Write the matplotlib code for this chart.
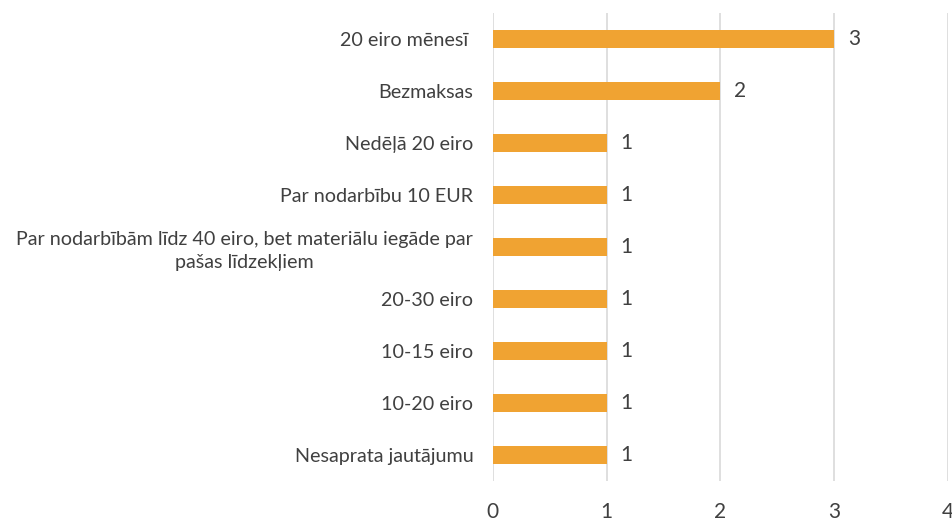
import matplotlib
matplotlib.use('Agg')
import matplotlib.pyplot as plt

# answers and counts, top to bottom
categories = [
    '20 eiro mēnesī ',
    'Bezmaksas',
    'Nedēļā 20 eiro',
    'Par nodarbību 10 EUR',
    'Par nodarbībām līdz 40 eiro, bet materiālu iegāde par\npašas līdzekļiem',
    '20-30 eiro',
    '10-15 eiro',
    '10-20 eiro',
    'Nesaprata jautājumu',
]
counts = [3, 2, 1, 1, 1, 1, 1, 1, 1]
xticks = [0, 1, 2, 3, 4]

plt.rcParams['font.family'] = ['Lato', 'DejaVu Sans']
text_col = '#404040'
bar_col = '#F0A332'

fig = plt.figure(figsize=(9.53, 5.21), dpi=100)
ax = fig.add_axes([0.517, 0.077, 0.478, 0.898])

ypos = list(range(len(categories)))
ax.barh(ypos, counts, height=0.35, color=bar_col, zorder=3)
ax.set_yticks(ypos)
ax.set_yticklabels(categories, fontsize=14.2, color=text_col)
for lbl in ax.get_yticklabels():
    lbl.set_multialignment('center')
    lbl.set_linespacing(1.4)
ax.set_ylim(-0.5, len(categories) - 0.5)
ax.invert_yaxis()

for y, v in zip(ypos, counts):
    ax.text(v + 0.12, y, str(v), va='center', ha='left', fontsize=15, color=text_col)

ax.set_xlim(0, 4)
ax.set_xticks(xticks)
ax.set_xticklabels([str(t) for t in xticks], fontsize=15, color=text_col)
ax.xaxis.grid(True, color='#D9D9D9', linewidth=1.2, zorder=0)
ax.tick_params(axis='both', length=0)
ax.tick_params(axis='x', pad=15)
ax.tick_params(axis='y', pad=14)
for s in ax.spines.values():
    s.set_visible(False)

fig.savefig('out.png', dpi=100)
